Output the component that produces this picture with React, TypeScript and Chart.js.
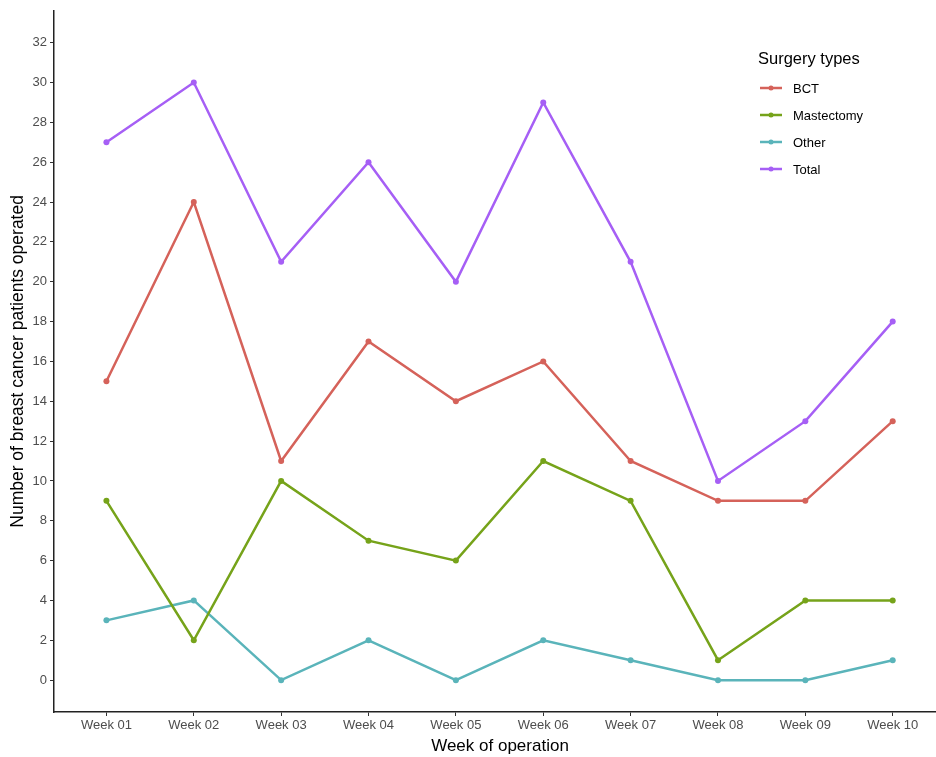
import React, { useEffect, useRef } from "react";
import { Chart, registerables } from "chart.js";

Chart.register(...registerables);

const weeks = ["Week 01", "Week 02", "Week 03", "Week 04", "Week 05", "Week 06", "Week 07", "Week 08", "Week 09", "Week 10"];
const bct = [15, 24, 11, 17, 14, 16, 11, 9, 9, 13];
const mastectomy = [9, 2, 10, 7, 6, 11, 9, 1, 4, 4];
const other = [3, 4, 0, 2, 0, 2, 1, 0, 0, 1];
const total = [27, 30, 21, 26, 20, 29, 21, 10, 13, 18];
const yTicks = [0, 2, 4, 6, 8, 10, 12, 14, 16, 18, 20, 22, 24, 26, 28, 30, 32];
const seriesNames = ["BCT", "Mastectomy", "Other", "Total"];
const seriesColors = ["#d5625a", "#76a31a", "#5ab4ba", "#a65ff5"];
const legendTitle = "Surgery types";
const xTitle = "Week of operation";
const yTitle = "Number of breast cancer patients operated";

const FONT = "'Liberation Sans', Arial, sans-serif";

const legendPlugin = {
  id: "customLegend",
  afterDraw(chart: any) {
    const ctx = chart.ctx;
    ctx.save();
    ctx.fillStyle = "#000";
    ctx.font = `16.5px ${FONT}`;
    ctx.textBaseline = "middle";
    ctx.textAlign = "left";
    ctx.fillText(legendTitle, 758, 59);
    chart.data.datasets.forEach((ds: any, i: number) => {
      const y = 88 + i * 27;
      ctx.strokeStyle = ds.borderColor;
      ctx.lineWidth = 2.5;
      ctx.beginPath();
      ctx.moveTo(760, y);
      ctx.lineTo(782, y);
      ctx.stroke();
      ctx.fillStyle = ds.borderColor;
      ctx.beginPath();
      ctx.arc(771, y, 2.5, 0, Math.PI * 2);
      ctx.fill();
      ctx.fillStyle = "#000";
      ctx.font = `13px ${FONT}`;
      ctx.fillText(ds.label, 793, y + 1);
    });
    ctx.restore();
  },
};

export default function App() {
  const ref = useRef<HTMLCanvasElement>(null);
  useEffect(() => {
    document.body.style.margin = "0";
    const series = [bct, mastectomy, other, total];
    const chart = new Chart(ref.current!, {
      type: "line",
      data: {
        datasets: series.map((s, i) => ({
          label: seriesNames[i],
          data: s.map((v, j) => ({ x: j, y: v })),
          borderColor: seriesColors[i],
          backgroundColor: seriesColors[i],
          borderWidth: 2.5,
          pointRadius: 3,
          pointBorderWidth: 0,
          tension: 0,
        })),
      },
      options: {
        animation: false,
        responsive: false,
        maintainAspectRatio: false,
        layout: { padding: { top: 10, right: 0, left: 0, bottom: 0 } },
        plugins: { legend: { display: false }, tooltip: { enabled: false } },
        scales: {
          x: {
            type: "linear",
            min: -0.6,
            max: 9.61,
            afterBuildTicks: (scale: any) => {
              scale.ticks = weeks.map((_, i) => ({ value: i }));
            },
            afterFit: (scale: any) => {
              scale.height = 45;
            },
            ticks: {
              autoSkip: false,
              maxRotation: 0,
              padding: 2,
              color: "#4d4d4d",
              font: { family: FONT, size: 13 },
              callback: (v: any) => weeks[v as number] ?? "",
            },
            grid: { drawOnChartArea: false, drawTicks: true, tickLength: 4, color: "#333" },
            border: { display: true, color: "#222", width: 1.5 },
            title: {
              display: true,
              text: xTitle,
              color: "#000",
              font: { family: FONT, size: 17 },
              padding: { top: 0, bottom: 0 },
            },
          },
          y: {
            type: "linear",
            min: -1.6,
            max: 33.6,
            afterBuildTicks: (scale: any) => {
              scale.ticks = yTicks.map((v) => ({ value: v }));
            },
            afterFit: (scale: any) => {
              scale.width = 54;
            },
            ticks: {
              padding: 3,
              color: "#4d4d4d",
              font: { family: FONT, size: 13 },
            },
            grid: { drawOnChartArea: false, drawTicks: true, tickLength: 4, color: "#333" },
            border: { display: true, color: "#222", width: 1.5 },
            title: {
              display: true,
              text: yTitle,
              color: "#000",
              font: { family: FONT, size: 17.5 },
              padding: { top: 8, bottom: 0 },
            },
          },
        },
      },
      plugins: [legendPlugin],
    });
    return () => chart.destroy();
  }, []);
  return (
    <div style={{ position: "absolute", left: 0, top: 0, width: 936, height: 757, overflow: "hidden", background: "#fff" }}>
      <canvas ref={ref} width={950} height={757} />
    </div>
  );
}
